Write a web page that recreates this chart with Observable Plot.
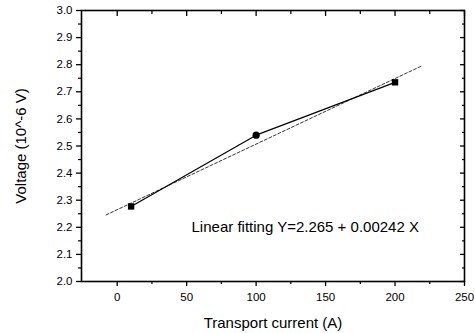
<!DOCTYPE html>
<html>
<head>
<meta charset="utf-8">
<script src="https://cdn.jsdelivr.net/npm/d3@7"></script>
<script src="https://cdn.jsdelivr.net/npm/@observablehq/plot@0.6"></script>
<style>
  html, body { margin: 0; padding: 0; background: #fff; }
  #chart svg { display: block; }
</style>
</head>
<body>
<div id="chart"></div>
<script>
// Measured data (transport current in A, voltage in 10^-6 V)
const currents = [10, 100, 200];
const voltages = [2.277, 2.540, 2.735];
const markerShapes = ["square", "circle", "square"];

// Linear fit Y = a + b X
const fitIntercept = 2.265;
const fitSlope = 0.00242;
const fitRange = [-8, 219];

const xTicks = [0, 50, 100, 150, 200, 250];
const xMinorTicks = [25, 75, 125, 175, 225];
const yTicks = [2.0, 2.1, 2.2, 2.3, 2.4, 2.5, 2.6, 2.7, 2.8, 2.9, 3.0];
const yMinorTicks = [2.05, 2.15, 2.25, 2.35, 2.45, 2.55, 2.65, 2.75, 2.85, 2.95];

const annotationText = "Linear fitting Y=2.265 + 0.00242 X";
const annotationPos = {x: 53.5, y: 2.199};

const points = currents.map((c, i) => ({x: c, y: voltages[i], shape: markerShapes[i]}));
const fitLine = fitRange.map(x => ({x, y: fitIntercept + fitSlope * x}));

const font = "'Liberation Sans', Arial, sans-serif";
const blank = () => "";

const chart = Plot.plot({
  width: 475,
  height: 333,
  marginLeft: 81,
  marginRight: 11,
  marginTop: 10,
  marginBottom: 52,
  style: {fontFamily: font, fontSize: "11.5px", color: "#000", background: "#fff"},
  x: {domain: [-25.7, 250]},
  y: {domain: [2.0, 3.0]},
  marks: [
    // bottom axis
    Plot.axisX({anchor: "bottom", ticks: xTicks, tickSize: 5, tickPadding: 6, tickFormat: d => String(d),
      label: "Transport current (A)", labelAnchor: "center", labelArrow: "none", labelOffset: 46,
      fontSize: 11.5, strokeWidth: 1.3}),
    Plot.axisX({anchor: "bottom", ticks: xMinorTicks, tickSize: 3, tickFormat: blank, label: null, strokeWidth: 1.2}),
    // top axis (inward)
    Plot.axisX({anchor: "top", ticks: xTicks, tickSize: -5, tickFormat: blank, label: null, strokeWidth: 1.3}),
    Plot.axisX({anchor: "top", ticks: xMinorTicks, tickSize: -3, tickFormat: blank, label: null, strokeWidth: 1.2}),
    // left axis
    Plot.axisY({anchor: "left", ticks: yTicks, tickSize: 5, tickPadding: 4, tickFormat: d => d.toFixed(1),
      label: "Voltage (10^-6 V)", labelAnchor: "center", labelArrow: "none", labelOffset: 66,
      fontSize: 11.5, strokeWidth: 1.3}),
    Plot.axisY({anchor: "left", ticks: yMinorTicks, tickSize: 3, tickFormat: blank, label: null, strokeWidth: 1.2}),
    // right axis (inward)
    Plot.axisY({anchor: "right", ticks: yTicks, tickSize: -5, tickFormat: blank, label: null, strokeWidth: 1.3}),
    Plot.axisY({anchor: "right", ticks: yMinorTicks, tickSize: -3, tickFormat: blank, label: null, strokeWidth: 1.2}),
    Plot.frame({stroke: "#000", strokeWidth: 1.6}),
    // fit line
    Plot.line(fitLine, {x: "x", y: "y", stroke: "#000", strokeWidth: 0.8, strokeDasharray: "3,2"}),
    // data line
    Plot.line(points, {x: "x", y: "y", stroke: "#000", strokeWidth: 1.2}),
    Plot.dot(points, {x: "x", y: "y", symbol: "shape", fill: "#000", stroke: "none", r: 3.6}),
    Plot.text([annotationPos], {x: "x", y: "y", text: () => annotationText, textAnchor: "start",
      fontSize: 15, fill: "#000"})
  ]
});

chart.querySelectorAll("[aria-label='x-axis label'] text, [aria-label='y-axis label'] text").forEach(t => {
  t.setAttribute("font-size", "15");
});
document.getElementById("chart").appendChild(chart);
</script>
</body>
</html>
